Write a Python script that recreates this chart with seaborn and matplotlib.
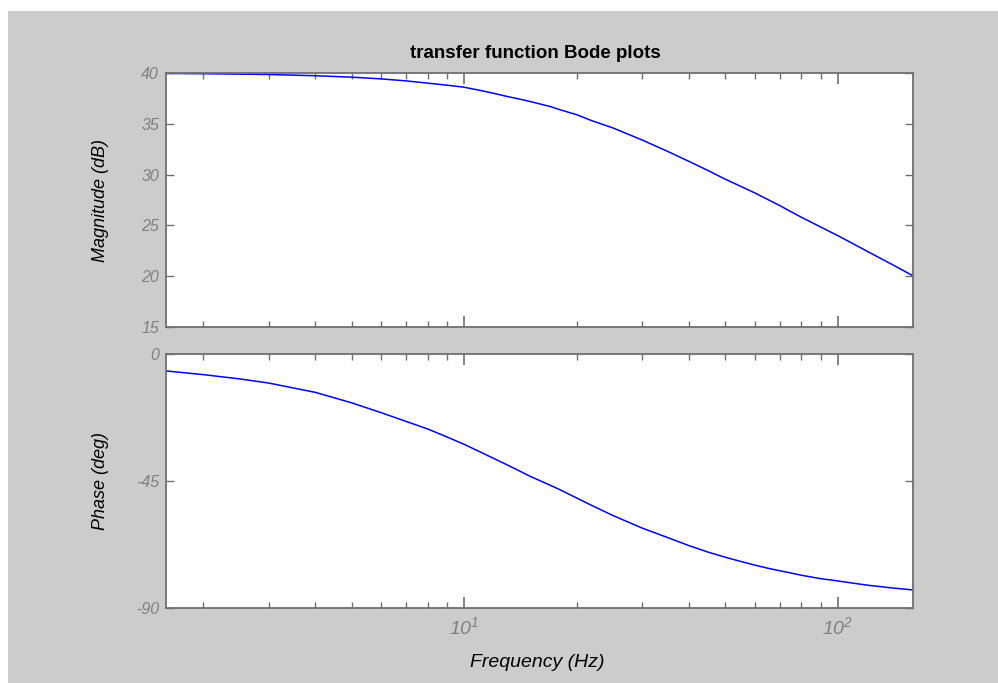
import matplotlib
matplotlib.use("Agg")
import matplotlib.pyplot as plt
import seaborn as sns
import pandas as pd
import numpy as np
from matplotlib.patches import Rectangle
from matplotlib.ticker import LogLocator, FixedLocator, NullFormatter

# ---- data ----
freq_hz = [1.59, 2, 2.5, 3, 4, 5, 6, 7, 8, 9, 10, 11, 12, 13, 14, 15, 17, 18, 20, 22, 25, 30, 35,
           40, 45, 50, 55, 60, 65, 70, 75, 80, 90, 100, 110, 120, 140, 159]
magnitude_db = [39.96, 39.93, 39.89, 39.85, 39.73, 39.59, 39.42, 39.22, 39.0, 38.8, 38.6, 38.3, 38.0,
                37.7, 37.45, 37.2, 36.7, 36.4, 35.9, 35.3, 34.6, 33.4, 32.3,
                31.3, 30.4, 29.55, 28.85, 28.2, 27.55, 26.95, 26.35, 25.8, 24.85, 24.0, 23.2, 22.45,
                21.15, 20.05]
phase_deg = [-6.0, -7.3, -8.8, -10.3, -13.6, -17.3, -20.8, -23.9, -26.6, -29.4, -32.0, -34.6, -37.0,
             -39.2, -41.3, -43.3, -46.5, -48.0, -51.0, -53.7, -57.2, -61.7, -65.0,
             -67.9, -70.2, -72.0, -73.5, -74.8, -75.9, -76.8, -77.6, -78.4, -79.6, -80.4, -81.2,
             -81.9, -82.9, -83.6]
mag_ticks = [15, 20, 25, 30, 35, 40]
phase_ticks = [-90, -45, 0]
title = "transfer function Bode plots"

df = pd.DataFrame({"f": freq_hz, "mag": magnitude_db, "phase": phase_deg})

sns.set_style("ticks")
fam = ["Liberation Sans", "DejaVu Sans"]
plt.rcParams["font.family"] = fam
plt.rcParams["mathtext.fontset"] = "custom"
plt.rcParams["mathtext.rm"] = "Liberation Sans:italic"
plt.rcParams["mathtext.it"] = "Liberation Sans:italic"

W, H = 998, 683
fig = plt.figure(figsize=(W / 100, H / 100), dpi=100, facecolor="white")
fig.patches.append(Rectangle((8 / W, 0), 1, (H - 11) / H, transform=fig.transFigure,
                             facecolor="#cccccc", edgecolor="none", zorder=-10))

spine_c = "#707070"
tick_c = "#808080"
ax1 = fig.add_axes([166 / W, (H - 327) / H, 747 / W, 254 / H])
ax2 = fig.add_axes([166 / W, (H - 608) / H, 747 / W, 254 / H])

sns.lineplot(data=df, x="f", y="mag", ax=ax1, color="#0000ff", linewidth=1.1)
sns.lineplot(data=df, x="f", y="phase", ax=ax2, color="#0000ff", linewidth=1.1)

for ax in (ax1, ax2):
    ax.set_facecolor("white")
    ax.set_xscale("log")
    ax.set_xlim(10 / (2 * np.pi), 1000 / (2 * np.pi))
    for s in ax.spines.values():
        s.set_visible(True)
        s.set_color(spine_c)
        s.set_linewidth(1.3)
    ax.xaxis.set_major_locator(FixedLocator([10, 100]))
    ax.xaxis.set_minor_locator(LogLocator(base=10, subs=np.arange(2, 10)))
    ax.xaxis.set_minor_formatter(NullFormatter())
    ax.tick_params(axis="both", which="both", direction="in", top=True, right=True,
                   color=spine_c, labelcolor=tick_c)
    ax.tick_params(axis="y", labelsize=11.5)
    ax.tick_params(axis="x", labelsize=14)
    ax.tick_params(axis="x", which="major", length=8, width=1.2, pad=6)
    ax.tick_params(axis="x", which="minor", length=4.5, width=1.0)
    ax.tick_params(axis="y", which="major", length=6, width=1.0, pad=5)
    ax.set_xlabel("")

ax1.set_ylim(15, 40)
ax1.set_yticks(mag_ticks)
ax1.set_yticklabels([str(t) for t in mag_ticks], fontstyle="italic")
ax1.set_xticklabels([])
ax2.set_ylim(-90, 0)
ax2.set_yticks(phase_ticks)
ax2.set_yticklabels([str(t) for t in phase_ticks], fontstyle="italic")
ax2.set_xticklabels([r"$10^{1}$", r"$10^{2}$"])

lab_kw = dict(fontstyle="italic", color="black")
ax1.set_ylabel("Magnitude (dB)", fontsize=13, **lab_kw)
ax2.set_ylabel("Phase (deg)", fontsize=13, **lab_kw)
ax1.yaxis.set_label_coords(-0.076, 0.5)
ax2.yaxis.set_label_coords(-0.076, 0.5)
ax2.set_xlabel("Frequency (Hz)", fontsize=14, **lab_kw)
ax2.xaxis.set_label_coords(0.497, -0.18)

fig.text(535 / W, 1 - 53 / H, title, ha="center", va="center",
         fontsize=13.5, fontweight="bold", color="black")

fig.savefig("out.png", dpi=100, facecolor="white")
